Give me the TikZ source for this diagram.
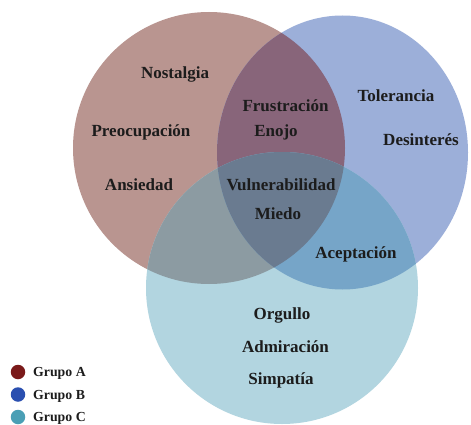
\documentclass[tikz,border=0pt]{standalone}
\usepackage{fontspec}
\setmainfont{Liberation Serif}
\definecolor{cA}{HTML}{B99590}
\definecolor{cB}{HTML}{9CAFD9}
\definecolor{cC}{HTML}{B2D5E0}
\definecolor{cAB}{HTML}{88657A}
\definecolor{cAC}{HTML}{8C9BA2}
\definecolor{cBC}{HTML}{76A5C8}
\definecolor{cABC}{HTML}{6A7B90}
\definecolor{txt}{HTML}{1C1C1C}
\definecolor{dA}{HTML}{7A1A1A}
\definecolor{dB}{HTML}{2A4FB0}
\definecolor{dC}{HTML}{4A9FB5}
\begin{document}
\begin{tikzpicture}[x=1pt,y=-1pt,
  lbl/.style={font=\fontsize{17}{19}\selectfont\bfseries, text=txt, anchor=base, inner sep=0pt},
  leg/.style={font=\fontsize{13.8}{15}\selectfont\bfseries, text=txt, anchor=base west, inner sep=0pt},
  dot/.style={circle, inner sep=0pt, minimum size=14.5pt}]
\useasboundingbox (0,0) rectangle (471,425);
\fill[white] (0,0) rectangle (471,425);
\def\shA{(209,148) circle [radius=136]}
\def\shB{(342.5,152.5) ellipse [x radius=125.5, y radius=137]}
\def\shC{(282,288) circle [radius=136]}
\fill[cA] \shA;
\fill[cB] \shB;
\fill[cC] \shC;
\begin{scope}
  \clip \shA;
  \fill[cAB] \shB;
  \fill[cAC] \shC;
\end{scope}
\begin{scope}
  \clip \shB;
  \clip \shC;
  \fill[cBC] (0,0) rectangle (471,425);
  \clip \shA;
  \fill[cABC] (0,0) rectangle (471,425);
\end{scope}
% labels
\node[lbl] (nos) at (175,79) {Nostalgia};
\node[lbl] (fru) at (285.5,112) {Frustración};
\node[lbl] (eno) at (276,137) {Enojo};
\node[lbl] (pre) at (141,137) {Preocupación};
\node[lbl] (tol) at (396,102) {Tolerancia};
\node[lbl] (des) at (421,146) {Desinterés};
\node[lbl] (ans) at (139,190) {Ansiedad};
\node[lbl] (vul) at (281,190) {Vulnerabilidad};
\node[lbl] (mie) at (278,219) {Miedo};
\node[lbl] (ace) at (356,258) {Aceptación};
\node[lbl] (org) at (282,319) {Orgullo};
\node[lbl] (adm) at (285.5,352) {Admiración};
\node[lbl] (sim) at (281,384) {Simpatía};
% legend
\node[dot, fill=dA] (la) at (18,372) {};
\node[dot, fill=dB] (lb) at (18,394.5) {};
\node[dot, fill=dC] (lc) at (18,417) {};
\node[leg] (ta) at (33,376.5) {Grupo A};
\node[leg] (tb) at (33,399) {Grupo B};
\node[leg] (tc) at (33,421.5) {Grupo C};
\end{tikzpicture}
\end{document}
